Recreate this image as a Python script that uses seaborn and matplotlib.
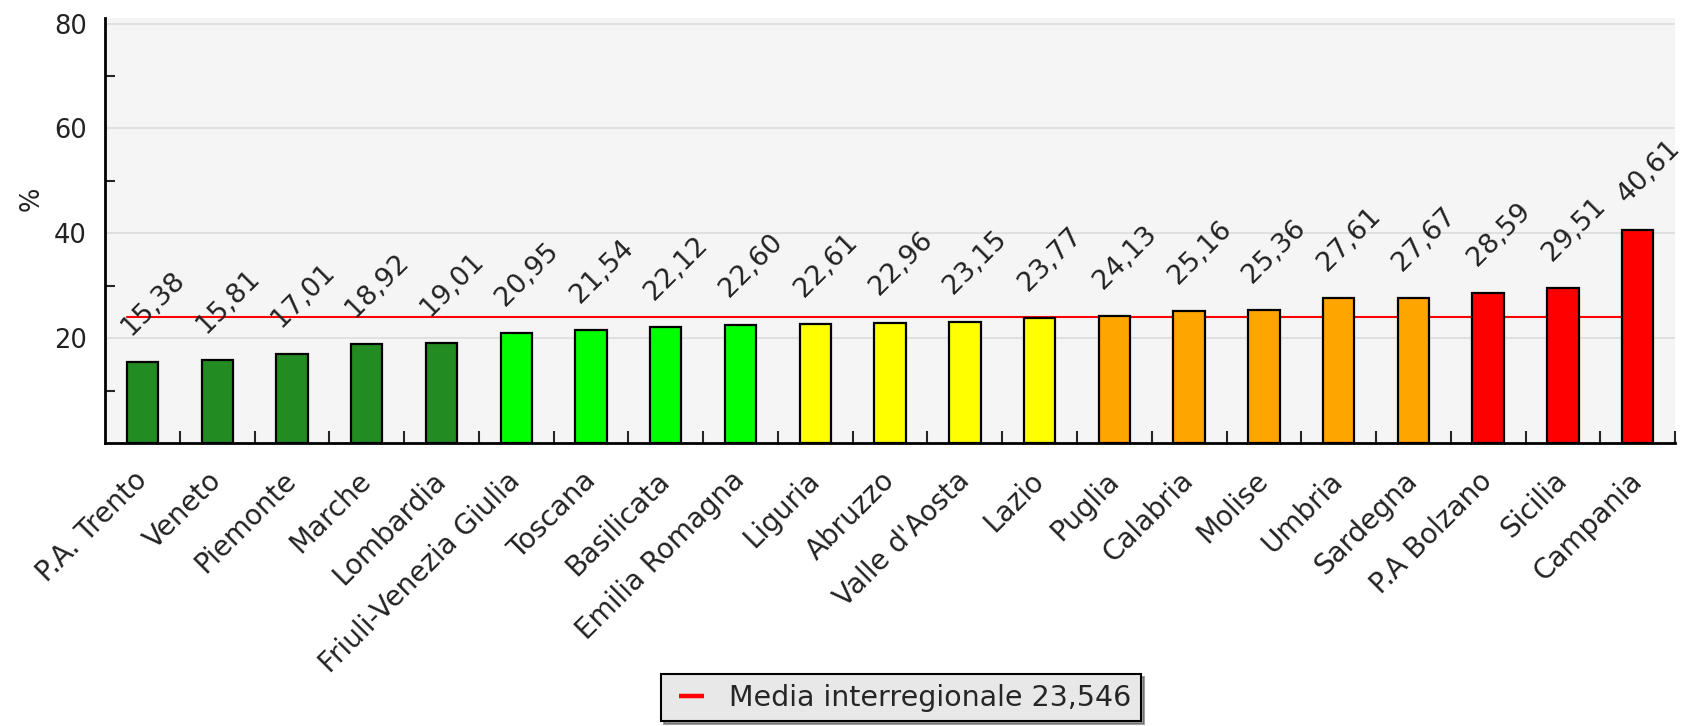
import matplotlib
matplotlib.use("Agg")
import matplotlib.pyplot as plt
import seaborn as sns
import numpy as np
from matplotlib.lines import Line2D
from matplotlib.ticker import FixedLocator

regions = ["P.A. Trento", "Veneto", "Piemonte", "Marche", "Lombardia",
           "Friuli-Venezia Giulia", "Toscana", "Basilicata", "Emilia Romagna",
           "Liguria", "Abruzzo", "Valle d'Aosta", "Lazio", "Puglia", "Calabria",
           "Molise", "Umbria", "Sardegna", "P.A Bolzano", "Sicilia", "Campania"]
values = [15.38, 15.81, 17.01, 18.92, 19.01, 20.95, 21.54, 22.12, 22.60,
          22.61, 22.96, 23.15, 23.77, 24.13, 25.16, 25.36, 27.61, 27.67,
          28.59, 29.51, 40.61]
value_labels = ["15,38", "15,81", "17,01", "18,92", "19,01", "20,95", "21,54",
                "22,12", "22,60", "22,61", "22,96", "23,15", "23,77", "24,13",
                "25,16", "25,36", "27,61", "27,67", "28,59", "29,51", "40,61"]
groups = ["dg"] * 5 + ["lg"] * 4 + ["y"] * 4 + ["o"] * 5 + ["r"] * 3
group_colors = {"dg": "#228B22", "lg": "#00FF00", "y": "#FFFF00",
                "o": "#FFA500", "r": "#FF0000"}
media_line_level = 24.07   # level at which the mean line is drawn in the picture
media_label = "Media interregionale 23,546"
yticks = [20, 40, 60, 80]
yminor = [10, 30, 50, 70]

sns.set_style("white")
plt.rcParams['font.family'] = ['DejaVu Sans']

fig = plt.figure(figsize=(16.84, 7.26), dpi=100)
ax = fig.add_axes([0.0624, 0.3898, 0.9323, 0.585])
ax.set_facecolor("#f5f5f5")

bar_w = 0.42
sns.barplot(x=regions, y=values, hue=groups, palette=group_colors,
            dodge=False, width=bar_w, edgecolor="black", linewidth=1.6,
            saturation=1, legend=False, ax=ax, zorder=3)

n = len(regions)
ax.set_xlim(-0.5, n - 0.5)
ax.set_ylim(0, 81)

# mean line from first bar left edge to last bar left edge
ax.plot([0 - bar_w / 2, n - 1 - bar_w / 2], [media_line_level] * 2,
        color="#ff0000", lw=1.5, zorder=2)

# value labels
for i, (v, lab) in enumerate(zip(values, value_labels)):
    ax.annotate(lab, xy=(i - bar_w / 2, v), xytext=(3, 19),
                textcoords="offset points", rotation=45,
                rotation_mode="anchor", ha="left", va="baseline",
                fontsize=19.5, color="#222222", zorder=4)

# grid
ax.yaxis.set_major_locator(FixedLocator(yticks))
ax.yaxis.set_minor_locator(FixedLocator(yminor))
ax.grid(axis="y", which="major", color="#dcdcdc", lw=1.2, zorder=0)
ax.set_axisbelow(True)

ax.tick_params(axis="y", which="major", direction="in", length=10, width=1.5,
               labelsize=18.5, colors="black", labelcolor="#222222", pad=13)
ax.tick_params(axis="y", which="minor", direction="in", length=7, width=1.5,
               left=True)
ax.xaxis.set_minor_locator(FixedLocator(np.arange(0.5, n, 1.0)))
ax.tick_params(axis="x", which="major", length=0, labelsize=20,
               labelcolor="#222222", pad=24)
ax.tick_params(axis="x", which="minor", direction="in", length=9, width=1.5,
               bottom=True)
ax.set_xticks(range(n))
ax.set_xticklabels(regions, rotation=45, ha="right", va="center",
                   rotation_mode="anchor")

for s in ["top", "right"]:
    ax.spines[s].set_visible(False)
for s in ["left", "bottom"]:
    ax.spines[s].set_color("black")
    ax.spines[s].set_linewidth(2)

ax.set_ylabel("%", fontsize=18.5, color="#222222", labelpad=7, y=0.574)
ax.set_xlabel("")

handle = Line2D([0], [0], color="#ff0000", linestyle="none", marker="_",
                markersize=18, markeredgewidth=3.2)
leg = fig.legend([handle], [media_label], loc="center",
                 bbox_to_anchor=(0.535, 0.039), fontsize=20.5,
                 frameon=True, fancybox=False, shadow=True,
                 handlelength=1.44, handletextpad=0.6, borderpad=0.34)
leg.get_frame().set_facecolor("#e8e8e8")
leg.get_frame().set_edgecolor("black")
leg.get_frame().set_linewidth(1.5)
leg.get_frame().set_alpha(1)

fig.savefig("out.png", dpi=100)
